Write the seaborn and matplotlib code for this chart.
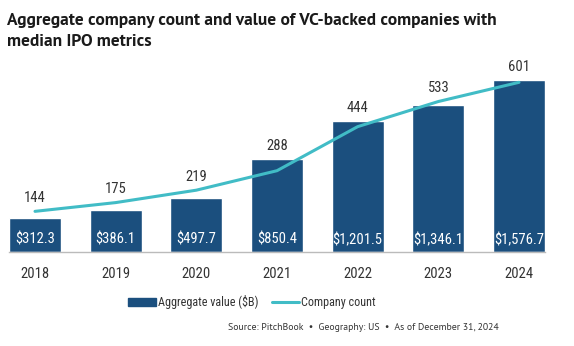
import matplotlib
matplotlib.use("Agg")
import matplotlib.pyplot as plt
import seaborn as sns
import pandas as pd
import numpy as np
from matplotlib.lines import Line2D
from matplotlib.patches import Patch

years = ["2018", "2019", "2020", "2021", "2022", "2023", "2024"]
agg_value = [312.3, 386.1, 497.7, 850.4, 1201.5, 1346.1, 1576.7]
company_count = [144, 175, 219, 288, 444, 533, 601]
value_labels = ["$312.3", "$386.1", "$497.7", "$850.4", "$1,201.5", "$1,346.1", "$1,576.7"]

BAR = "#1b4f7e"
LINE = "#41bcc6"
TXT = "#333333"

sns.set_theme(style="white")
narrow = ["Roboto Condensed", "DejaVu Sans"]
title_font = ["PT Sans", "DejaVu Sans"]
plt.rcParams["font.family"] = narrow

df = pd.DataFrame({"year": years, "value": agg_value, "count": company_count,
                   "pos": np.arange(len(years))})

fig = plt.figure(figsize=(5.74, 3.46), dpi=100)
ax = fig.add_axes([9/574, 1-252/346, 536/574, 190/346])
sns.barplot(data=df, x="year", y="value", color=BAR, width=0.645, saturation=1, ax=ax)
ax.set_xlim(-0.3225, 6.3225)
ymax1 = 1741
ax.set_ylim(0, ymax1)
ax.set_yticks([])
ax.set_xlabel("")
ax.set_ylabel("")
for s in ["top", "left", "right"]:
    ax.spines[s].set_visible(False)
ax.spines["bottom"].set_color("#bbbbbb")
ax.spines["bottom"].set_linewidth(1.0)
ax.tick_params(axis="x", length=0, pad=11, labelsize=10.5, labelcolor=TXT)

for i, lab in enumerate(value_labels):
    ax.text(i, 112, lab, ha="center", va="center", color="white", fontsize=10.5)

ax2 = ax.twinx()
ymax2 = 673
ax2.set_ylim(0, ymax2)
sns.lineplot(data=df, x="pos", y="count", color=LINE, linewidth=2.2, ax=ax2)
ax2.set_yticks([])
ax2.set_ylabel("")
for s in ["top", "left", "right", "bottom"]:
    ax2.spines[s].set_visible(False)

for i, c in enumerate(company_count):
    bar_in_count = agg_value[i] * ymax2 / ymax1
    top = max(c, bar_in_count)
    ax2.annotate(str(c), (i, top), xytext=(0, 9.5), textcoords="offset points",
                 ha="center", va="center", fontsize=10.5, color=TXT)

fig.text(7/574, 1-20/346, "Aggregate company count and value of VC-backed companies with",
         fontsize=12.5, fontweight="bold", family=title_font,
         color="#1a1a1a", va="center", ha="left")
fig.text(7/574, 1-41/346, "median IPO metrics",
         fontsize=12.5, fontweight="bold", family=title_font,
         color="#1a1a1a", va="center", ha="left")

handles = [Patch(facecolor=BAR, edgecolor=BAR),
           Line2D([0], [0], color=LINE, linewidth=2.2)]
fig.legend(handles, ["Aggregate value ($B)", "Company count"], loc="center",
           bbox_to_anchor=(252/574, 1-302/346), ncol=2, frameon=False,
           fontsize=8.7, handlelength=2.3, handleheight=0.6, handletextpad=0.15,
           columnspacing=1.1, labelcolor=TXT)

fig.text(499/574, 1-328/346, "Source: PitchBook  \u2022  Geography: US  \u2022  As of December 31, 2024",
         ha="right", va="center", fontsize=7, color=TXT, family=title_font)

fig.savefig("out.png", dpi=100)
